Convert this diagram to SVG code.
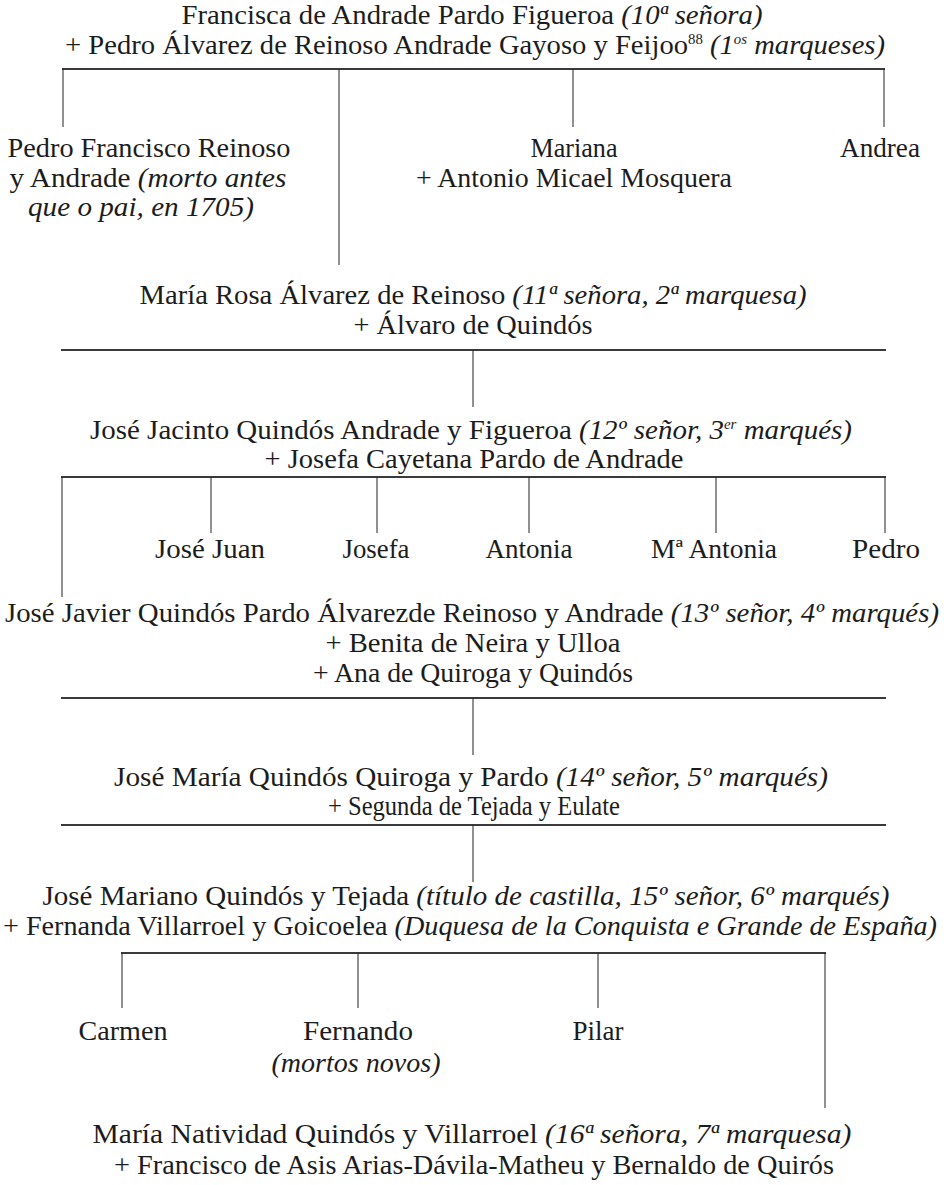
<svg xmlns="http://www.w3.org/2000/svg" width="944" height="1185" viewBox="0 0 944 1185">
<style>
.t{font-family:"Liberation Serif","Times New Roman",serif;font-size:27px;fill:#1c1c1c;text-anchor:middle}
.i{font-style:italic}
.h{stroke:#3a3a3a;stroke-width:1.8;fill:none}
.v{stroke:#222;stroke-width:1;fill:none}
</style>
<rect width="944" height="1185" fill="#fff"/>
<g id="connectors">
<path class="h" d="M62 69H885"/>
<path class="v" d="M63 69V127M339 69V265M573 69V127M884 69V127"/>
<path class="h" d="M61 350H886"/>
<path class="v" d="M473 350V407"/>
<path class="h" d="M61 477H886"/>
<path class="v" d="M62 477V597M211 477V533M377 477V533M529 477V533M716 477V533M885 477V533"/>
<path class="h" d="M61 698H886"/>
<path class="v" d="M473 698V755"/>
<path class="h" d="M61 825H886"/>
<path class="v" d="M473 825V882"/>
<path class="h" d="M121 953H826"/>
<path class="v" d="M122 953V1008M358 953V1008M598 953V1008M825 953V1108"/>
</g>
<g id="n1">
<text class="t" x="472" y="24" textLength="581" lengthAdjust="spacingAndGlyphs">Francisca de Andrade Pardo Figueroa <tspan class="i">(10ª señora)</tspan></text>
<text class="t" x="475" y="54" textLength="820" lengthAdjust="spacingAndGlyphs">+ Pedro Álvarez de Reinoso Andrade Gayoso y Feijoo<tspan font-size="14" dy="-10">88</tspan><tspan dy="10"> </tspan><tspan class="i">(1<tspan font-size="14" dy="-10">os</tspan><tspan dy="10"> marqueses)</tspan></tspan></text>
</g>
<g id="n2">
<text class="t" x="149" y="157" textLength="283" lengthAdjust="spacingAndGlyphs">Pedro Francisco Reinoso</text>
<text class="t" x="148" y="187" textLength="277" lengthAdjust="spacingAndGlyphs">y Andrade <tspan class="i">(morto antes</tspan></text>
<text class="t i" x="141" y="216" textLength="226" lengthAdjust="spacingAndGlyphs">que o pai, en 1705)</text>
</g>
<g id="n3">
<text class="t" x="574" y="157" textLength="87" lengthAdjust="spacingAndGlyphs">Mariana</text>
<text class="t" x="574" y="187" textLength="316" lengthAdjust="spacingAndGlyphs">+ Antonio Micael Mosquera</text>
</g>
<g id="n4">
<text class="t" x="880" y="157" textLength="80" lengthAdjust="spacingAndGlyphs">Andrea</text>
</g>
<g id="n5">
<text class="t" x="473" y="304" textLength="667" lengthAdjust="spacingAndGlyphs">María Rosa Álvarez de Reinoso <tspan class="i">(11ª señora, 2ª marquesa)</tspan></text>
<text class="t" x="473" y="334" textLength="239" lengthAdjust="spacingAndGlyphs">+ Álvaro de Quindós</text>
</g>
<g id="n6">
<text class="t" x="471" y="439" textLength="762" lengthAdjust="spacingAndGlyphs">José Jacinto Quindós Andrade y Figueroa <tspan class="i">(12º señor, 3<tspan font-size="14" dy="-10">er</tspan><tspan dy="10"> marqués)</tspan></tspan></text>
<text class="t" x="474" y="468" textLength="419" lengthAdjust="spacingAndGlyphs">+ Josefa Cayetana Pardo de Andrade</text>
</g>
<g id="n7"><text class="t" x="210" y="558" textLength="110" lengthAdjust="spacingAndGlyphs">José Juan</text></g>
<g id="n8"><text class="t" x="376" y="558" textLength="67" lengthAdjust="spacingAndGlyphs">Josefa</text></g>
<g id="n9"><text class="t" x="529" y="558" textLength="87" lengthAdjust="spacingAndGlyphs">Antonia</text></g>
<g id="n10"><text class="t" x="714" y="558" textLength="126" lengthAdjust="spacingAndGlyphs">Mª Antonia</text></g>
<g id="n11"><text class="t" x="886" y="558" textLength="68" lengthAdjust="spacingAndGlyphs">Pedro</text></g>
<g id="n12">
<text class="t" x="472" y="622" textLength="934" lengthAdjust="spacingAndGlyphs">José Javier Quindós Pardo Álvarezde Reinoso y Andrade <tspan class="i">(13º señor, 4º marqués)</tspan></text>
<text class="t" x="473" y="652" textLength="295" lengthAdjust="spacingAndGlyphs">+ Benita de Neira y Ulloa</text>
<text class="t" x="473" y="682" textLength="320" lengthAdjust="spacingAndGlyphs">+ Ana de Quiroga y Quindós</text>
</g>
<g id="n13">
<text class="t" x="471" y="786" textLength="714" lengthAdjust="spacingAndGlyphs">José María Quindós Quiroga y Pardo <tspan class="i">(14º señor, 5º marqués)</tspan></text>
<text class="t" x="474" y="815" textLength="292" lengthAdjust="spacingAndGlyphs">+ Segunda de Tejada y Eulate</text>
</g>
<g id="n14">
<text class="t" x="466" y="905" textLength="847" lengthAdjust="spacingAndGlyphs">José Mariano Quindós y Tejada <tspan class="i">(título de castilla, 15º señor, 6º marqués)</tspan></text>
<text class="t" x="470" y="935" textLength="934" lengthAdjust="spacingAndGlyphs">+ Fernanda Villarroel y Goicoelea <tspan class="i">(Duquesa de la Conquista e Grande de España)</tspan></text>
</g>
<g id="n15"><text class="t" x="123" y="1040" textLength="89" lengthAdjust="spacingAndGlyphs">Carmen</text></g>
<g id="n16">
<text class="t" x="358" y="1040" textLength="110" lengthAdjust="spacingAndGlyphs">Fernando</text>
<text class="t i" x="356" y="1072" textLength="169" lengthAdjust="spacingAndGlyphs">(mortos novos)</text>
</g>
<g id="n17"><text class="t" x="598" y="1040" textLength="51" lengthAdjust="spacingAndGlyphs">Pilar</text></g>
<g id="n18">
<text class="t" x="472" y="1143" textLength="759" lengthAdjust="spacingAndGlyphs">María Natividad Quindós y Villarroel <tspan class="i">(16ª señora, 7ª marquesa)</tspan></text>
<text class="t" x="474" y="1174" textLength="720" lengthAdjust="spacingAndGlyphs">+ Francisco de Asis Arias-Dávila-Matheu y Bernaldo de Quirós</text>
</g>
</svg>
